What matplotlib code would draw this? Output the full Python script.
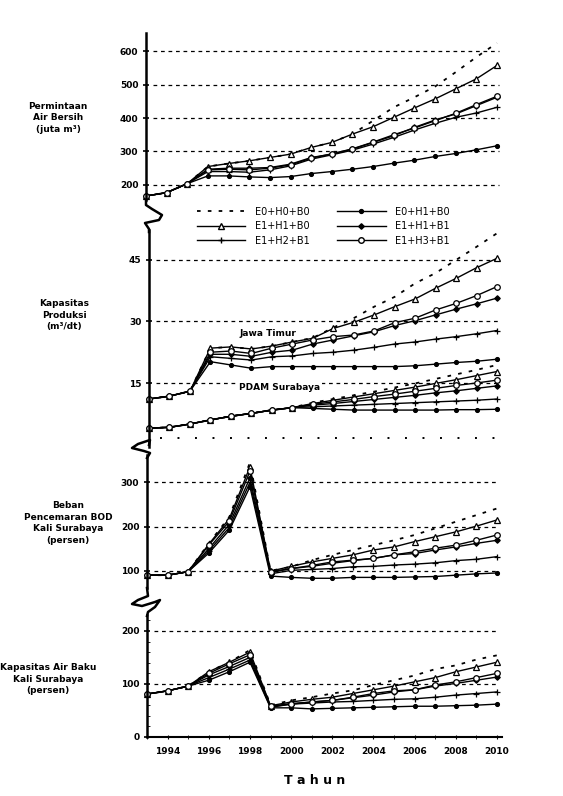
import numpy as np
import matplotlib.pyplot as plt
from matplotlib.lines import Line2D

W, H = 563, 796

years = np.arange(1993, 2011)
tick_years = np.arange(1994, 2011, 2)
scenarios = ['E0+H0+B0', 'E0+H1+B0', 'E1+H1+B0', 'E1+H1+B1', 'E1+H2+B1', 'E1+H3+B1']

# Permintaan air bersih (juta m3), urutan sesuai scenarios
demand = [
    [167, 177, 204, 255, 264, 272, 282, 292, 312, 327, 352, 392, 432, 462, 494, 537, 582, 624],
    [167, 177, 204, 227, 227, 224, 222, 225, 234, 240, 247, 255, 265, 274, 285, 294, 305, 317],
    [167, 177, 204, 255, 264, 272, 282, 292, 312, 327, 352, 374, 402, 430, 457, 487, 517, 557],
    [167, 177, 204, 247, 250, 250, 252, 262, 282, 292, 307, 327, 347, 372, 394, 412, 437, 462],
    [167, 177, 204, 240, 240, 238, 245, 257, 277, 290, 304, 322, 342, 364, 384, 402, 415, 432],
    [167, 177, 204, 245, 247, 245, 250, 260, 280, 293, 308, 328, 350, 370, 392, 414, 440, 465],
]

# Kapasitas produksi Jawa Timur (m3/dt)
jatim = [
    [11.1, 11.8, 13.0, 23.5, 23.8, 23.3, 24.0, 25.0, 26.0, 28.5, 30.8, 33.6, 36.0, 39.3, 41.8, 45.0, 48.2, 51.5],
    [11.1, 11.8, 13.0, 20.2, 19.4, 18.6, 19.0, 19.0, 19.0, 19.0, 19.0, 19.0, 19.0, 19.2, 19.6, 20.0, 20.3, 20.8],
    [11.1, 11.8, 13.0, 23.5, 23.8, 23.3, 24.0, 25.0, 25.9, 28.3, 29.8, 31.6, 33.6, 35.5, 38.1, 40.5, 43.1, 45.4],
    [11.1, 11.8, 13.0, 22.0, 22.0, 21.5, 22.5, 23.0, 24.5, 25.5, 26.5, 27.5, 29.0, 30.2, 31.6, 33.0, 34.3, 35.7],
    [11.1, 11.8, 13.0, 21.4, 21.0, 20.6, 21.4, 21.6, 22.2, 22.5, 23.0, 23.7, 24.5, 25.0, 25.7, 26.3, 27.0, 27.8],
    [11.1, 11.8, 13.0, 22.5, 22.8, 22.2, 23.5, 24.5, 25.5, 26.3, 26.7, 27.7, 29.7, 30.8, 32.8, 34.4, 36.3, 38.5],
]

# Kapasitas produksi PDAM Surabaya (m3/dt)
pdam = [
    [4.0, 4.2, 5.0, 6.0, 6.9, 7.6, 8.4, 9.0, 10.2, 11.1, 12.0, 12.9, 13.9, 14.9, 16.0, 17.1, 18.2, 19.4],
    [4.0, 4.2, 5.0, 6.0, 6.9, 7.6, 8.4, 9.0, 8.8, 8.6, 8.4, 8.4, 8.4, 8.4, 8.4, 8.5, 8.5, 8.6],
    [4.0, 4.2, 5.0, 6.0, 6.9, 7.6, 8.4, 9.0, 10.0, 10.8, 11.6, 12.4, 13.2, 14.0, 14.9, 15.8, 16.8, 17.8],
    [4.0, 4.2, 5.0, 6.0, 6.9, 7.6, 8.4, 9.0, 9.6, 10.0, 10.5, 11.0, 11.5, 12.0, 12.6, 13.1, 13.7, 14.3],
    [4.0, 4.2, 5.0, 6.0, 6.9, 7.6, 8.4, 9.0, 9.2, 9.4, 9.6, 9.8, 10.0, 10.2, 10.4, 10.6, 10.8, 11.1],
    [4.0, 4.2, 5.0, 6.0, 6.9, 7.6, 8.4, 9.0, 9.8, 10.4, 11.0, 11.7, 12.3, 13.0, 13.7, 14.4, 15.0, 15.7],
]

# Beban pencemaran BOD Kali Surabaya (persen)
bod = [
    [90, 90, 98, 162, 222, 345, 100, 109, 124, 136, 147, 158, 169, 181, 196, 211, 226, 241],
    [90, 90, 98, 140, 192, 290, 88, 85, 83, 83, 85, 85, 85, 86, 87, 90, 93, 95],
    [90, 90, 98, 160, 218, 335, 99, 110, 120, 128, 136, 147, 154, 166, 177, 188, 201, 215],
    [90, 90, 98, 150, 205, 310, 96, 105, 110, 117, 123, 128, 136, 139, 147, 154, 162, 169],
    [90, 90, 98, 145, 198, 300, 93, 101, 103, 105, 109, 110, 113, 115, 118, 123, 126, 132],
    [90, 90, 98, 158, 212, 325, 98, 105, 112, 120, 124, 128, 136, 143, 151, 158, 169, 181],
]

# Kapasitas air baku Kali Surabaya (persen)
rawwater = [
    [81, 87, 96, 123, 141, 164, 60, 69, 75, 82, 88, 98, 107, 116, 128, 135, 146, 154],
    [81, 87, 96, 107, 123, 141, 55, 55, 53, 54, 55, 56, 57, 58, 58, 59, 60, 62],
    [81, 87, 96, 123, 141, 160, 59, 66, 71, 75, 82, 89, 96, 104, 112, 123, 132, 141],
    [81, 87, 96, 117, 133, 150, 57, 62, 66, 69, 74, 79, 85, 89, 96, 101, 107, 113],
    [81, 87, 96, 112, 128, 145, 56, 62, 64, 66, 67, 69, 71, 72, 75, 79, 82, 85],
    [81, 87, 96, 120, 138, 155, 58, 63, 66, 69, 75, 82, 87, 89, 98, 104, 112, 120],
]

styles = [
    dict(ls=(0, (2, 4)), marker=None, lw=1.3),
    dict(ls='-', marker='o', ms=2.8, mfc='k', lw=1.0),
    dict(ls='-', marker='^', ms=4, mfc='white', lw=1.0),
    dict(ls='-', marker='D', ms=2.8, mfc='k', lw=1.0),
    dict(ls='-', marker='+', ms=4, mfc='k', lw=1.0),
    dict(ls='-', marker='o', ms=4, mfc='white', lw=1.0),
]


def fx(px):
    return px / W


def fy(py):
    return 1 - py / H


def panel(top, bottom, axis_px, end_px, right_px, ylim, ticks):
    step = (end_px - axis_px) / 17
    ax = fig.add_axes([fx(axis_px), fy(bottom), (right_px - axis_px) / W, (bottom - top) / H])
    ax.set_xlim(1993, 1993 + (right_px - axis_px) / step)
    ax.set_ylim(*ylim)
    ax.set_facecolor('none')
    for s in ['top', 'right', 'bottom']:
        ax.spines[s].set_visible(False)
    ax.spines['left'].set_linewidth(1.8)
    ax.set_xticks([])
    ax.set_yticks(ticks)
    ax.tick_params(axis='y', direction='inout', length=5, width=1.2, labelsize=6.5, pad=3)
    for lbl in ax.get_yticklabels():
        lbl.set_fontweight('bold')
    xr = (2010.1 - 1993) / (ax.get_xlim()[1] - 1993)
    for t in ticks:
        if t > ylim[0] + 1e-9:
            ax.axhline(t, xmin=0.02, xmax=xr, color='k', lw=0.9, ls=(0, (3, 3)), zorder=0)
    return ax


def draw(ax, series):
    for vals, st in zip(series, styles):
        ax.plot(years, vals, color='k', ls=st['ls'], lw=st['lw'], marker=st['marker'],
                ms=st.get('ms', 0), mfc=st.get('mfc', 'k'), mec='k', mew=0.9, clip_on=False)


fig = plt.figure(figsize=(W / 100, H / 100), dpi=100)

ax1 = panel(33, 200, 146, 497, 502, (155, 654), [200, 300, 400, 500, 600])
draw(ax1, demand)

ax2 = panel(230, 447, 149, 497, 502, (-0.6, 52.3), [15, 30, 45])
draw(ax2, jatim)
draw(ax2, pdam)
ax2.axhline(1.5, xmin=0.03, xmax=0.99, color='k', lw=1.4, ls=(0, (1, 8)))

ax3 = panel(455, 588, 147, 497, 502, (61, 362), [100, 200, 300])
draw(ax3, bod)

ax4 = panel(615, 737, 147, 497, 502, (0, 230), [0, 100, 200])
draw(ax4, rawwater)
ax4.spines['bottom'].set_visible(True)
ax4.spines['bottom'].set_linewidth(1.5)
ax4.set_xticks(tick_years)
ax4.set_xticks(years, minor=True)
ax4.set_yticks(np.arange(20, 230, 20), minor=True)
ax4.tick_params(axis='x', which='both', direction='inout', length=3, labelsize=6.5, pad=6)
ax4.tick_params(axis='y', which='minor', direction='in', length=2)
for lbl in ax4.get_xticklabels():
    lbl.set_fontweight('bold')

# legenda
handles = []
for name, st in zip(scenarios, styles):
    handles.append(Line2D([], [], color='k', ls=st['ls'], lw=st['lw'], marker=st['marker'],
                          ms=st.get('ms', 0), mfc=st.get('mfc', 'k'), mec='k', label=name))
order = [0, 2, 4, 1, 3, 5]
fig.legend([handles[i] for i in order], [scenarios[i] for i in order], ncol=2,
           loc='upper left', bbox_to_anchor=(fx(192), fy(202)), frameon=False,
           fontsize=7, handlelength=5.0, handletextpad=1.0, columnspacing=2.8,
           labelspacing=0.45, borderpad=0)

# patahan sumbu
breaks = [
    [(146, 200), (146, 205), (152, 209), (162, 215), (159, 220), (145, 223), (149, 229), (149, 232)],
    [(149, 445), (150, 440), (138, 444), (132, 448), (144, 451), (150, 453), (147, 458)],
    [(147, 588), (148, 596), (138, 600), (132, 604), (142, 606), (155, 602), (160, 600),
     (155, 607), (148, 612), (147, 616)],
]
for pts in breaks:
    xs = [fx(p[0]) for p in pts]
    ys = [fy(p[1]) for p in pts]
    fig.add_artist(Line2D(xs, ys, color='k', lw=1.8, transform=fig.transFigure))

lab = dict(ha='center', va='center', fontsize=6.5, fontweight='bold', linespacing=1.35)
fig.text(fx(58), fy(118), 'Permintaan\nAir Bersih\n(juta m³)', **lab)
fig.text(fx(64), fy(315), 'Kapasitas\nProduksi\n(m³/dt)', **lab)
fig.text(fx(68), fy(523), 'Beban\nPencemaran BOD\nKali Surabaya\n(persen)', **lab)
fig.text(fx(48), fy(679), 'Kapasitas Air Baku\nKali Surabaya\n(persen)', **lab)

fig.text(fx(268), fy(333), 'Jawa Timur', ha='center', va='center', fontsize=6.5, fontweight='bold',
         bbox=dict(facecolor='white', edgecolor='none', pad=0.5))
fig.text(fx(280), fy(388), 'PDAM Surabaya', ha='center', va='center', fontsize=6.5, fontweight='bold',
         bbox=dict(facecolor='white', edgecolor='none', pad=1))

fig.text(fx(315), fy(780), 'T a h u n', ha='center', va='center', fontsize=9, fontweight='bold')

fig.savefig('out.png', dpi=100)
